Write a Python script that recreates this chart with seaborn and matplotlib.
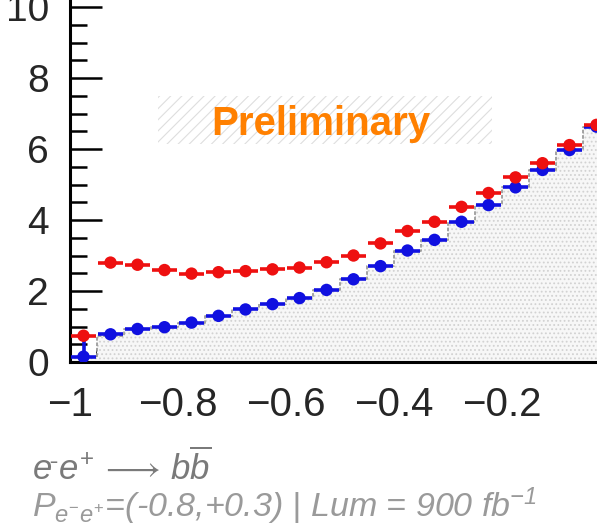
import numpy as np
import pandas as pd
import matplotlib
matplotlib.use("Agg")
import matplotlib.pyplot as plt
from matplotlib.patches import Rectangle
from matplotlib.ticker import FixedLocator, MultipleLocator, FixedFormatter
import seaborn as sns

# cos(theta) binning, 0.05 wide bins
bin_edges = [-1.00, -0.95, -0.90, -0.85, -0.80, -0.75, -0.70, -0.65, -0.60, -0.55,
             -0.50, -0.45, -0.40, -0.35, -0.30, -0.25, -0.20, -0.15, -0.10, -0.05, 0.00]

# reconstructed distribution (red) and corrected distribution (blue)
red_vals = [0.74, 2.80, 2.74, 2.59, 2.49, 2.53, 2.56, 2.61, 2.66, 2.81,
            3.00, 3.34, 3.69, 3.95, 4.37, 4.76, 5.20, 5.60, 6.11, 6.68]
red_err = [0.10, 0.05, 0.05, 0.05, 0.05, 0.05, 0.05, 0.05, 0.05, 0.05,
           0.05, 0.05, 0.05, 0.05, 0.05, 0.05, 0.05, 0.05, 0.05, 0.05]
blue_vals = [0.15, 0.78, 0.93, 0.98, 1.11, 1.30, 1.48, 1.63, 1.80, 2.03,
             2.33, 2.70, 3.14, 3.44, 3.95, 4.42, 4.92, 5.41, 5.97, 6.63]
blue_err = [0.55, 0.05, 0.05, 0.05, 0.05, 0.05, 0.05, 0.05, 0.05, 0.05,
            0.05, 0.05, 0.05, 0.05, 0.05, 0.05, 0.05, 0.05, 0.05, 0.05]
# parton-level expectation (grey filled histogram)
truth_vals = [0.15, 0.72, 0.93, 0.98, 1.11, 1.30, 1.48, 1.63, 1.80, 2.03,
              2.33, 2.70, 3.14, 3.44, 3.95, 4.42, 4.92, 5.41, 5.97, 6.63]

x_ticks = [-1.0, -0.8, -0.6, -0.4, -0.2, 0.0, 0.2, 0.4, 0.6, 0.8, 1.0]
x_tick_labels = ["\u22121", "\u22120.8", "\u22120.6", "\u22120.4", "\u22120.2",
                 "", "", "", "", "", ""]
y_ticks = [0, 2, 4, 6, 8, 10]
y_tick_labels = ["0", "2", "4", "6", "8", "10"]

process_label = r"$e^{\bar{}}\,e^{+}\,\longrightarrow\,b\overline{b}$"
run_label = r"$P_{e^{-}e^{+}}$=(-0.8,+0.3) | Lum = 900 fb$^{\mathregular{-1}}$"

edges = np.array(bin_edges)
centers = 0.5 * (edges[:-1] + edges[1:])
half_w = 0.5 * np.diff(edges)
truth_df = pd.DataFrame({"cos": centers, "w": truth_vals})

sns.set_style("ticks")
plt.rcParams["font.family"] = ["Liberation Sans", "DejaVu Sans"]
plt.rcParams["mathtext.fontset"] = "custom"
plt.rcParams["mathtext.rm"] = "Liberation Sans"
plt.rcParams["mathtext.it"] = "Liberation Sans:italic"
plt.rcParams["mathtext.sf"] = "Liberation Sans"
plt.rcParams["hatch.linewidth"] = 0.8

W, H = 597, 526
fig = plt.figure(figsize=(W / 100, H / 100), dpi=100)
fig.patch.set_facecolor("white")

# axes frame extends past the right and top edges of the canvas
ax_left, ax_bottom = 70, 164
px_per_x, px_per_y = 540.0, 35.5
x_lo, x_hi = -1.0, 1.0
y_lo, y_hi = 0.0, 11.0
ax = fig.add_axes([ax_left / W, ax_bottom / H,
                   (x_hi - x_lo) * px_per_x / W, (y_hi - y_lo) * px_per_y / H])
ax.set_facecolor("none")

# grey dotted expectation histogram
sns.histplot(data=truth_df, x="cos", weights="w", bins=list(bin_edges), element="step",
             fill=True, facecolor="#f7f7f7", edgecolor="#d2d2d2", hatch="....",
             linewidth=0, alpha=1.0, ax=ax, zorder=1)
sns.histplot(data=truth_df, x="cos", weights="w", bins=list(bin_edges), element="step",
             fill=False, color="#9c9c9c", linewidth=1.3, linestyle=(0, (2, 1)),
             ax=ax, zorder=2)

# blue then red points with horizontal bin bars
for vals, errs, col in [(blue_vals, blue_err, "#1010e0"), (red_vals, red_err, "#ee1010")]:
    ax.errorbar(centers, vals, xerr=half_w * 0.94, yerr=errs, fmt="none",
                ecolor=col, elinewidth=2.6, capsize=0, zorder=3)
    sns.scatterplot(x=centers, y=vals, color=col, s=80, edgecolor="none",
                    marker="o", ax=ax, zorder=4, legend=False)

ax.set_xlim(x_lo, x_hi)
ax.set_ylim(y_lo, y_hi)
ax.set_xlabel("")
ax.set_ylabel("")

ax.xaxis.set_major_locator(FixedLocator(x_ticks))
ax.xaxis.set_major_formatter(FixedFormatter(x_tick_labels))
ax.xaxis.set_minor_locator(MultipleLocator(0.05))
ax.yaxis.set_major_locator(FixedLocator(y_ticks))
ax.yaxis.set_major_formatter(FixedFormatter(y_tick_labels))
ax.yaxis.set_minor_locator(MultipleLocator(0.5))

ax.tick_params(axis="both", which="both", direction="in", width=1.8, color="black",
               top=False, right=False)
ax.tick_params(axis="x", which="major", length=19.5, pad=17, labelsize=29)
ax.tick_params(axis="x", which="minor", length=9.5)
ax.tick_params(axis="y", which="major", length=23, pad=15, labelsize=28)
ax.tick_params(axis="y", which="minor", length=12)
for side in ["left", "bottom"]:
    ax.spines[side].set_linewidth(2.2)
    ax.spines[side].set_color("black")
for side in ["top", "right"]:
    ax.spines[side].set_visible(False)

# "Preliminary" stamp on a hatched band
bx0, bx1, by0, by1 = 158, 492, 96, 144
fig.patches.append(Rectangle((bx0 / W, 1 - by1 / H), (bx1 - bx0) / W, (by1 - by0) / H,
                             transform=fig.transFigure, facecolor="none",
                             edgecolor="#dedede", hatch="///", linewidth=0, zorder=5))
fig.text(321 / W, 1 - 135 / H, "Preliminary", color="#ff8000", fontsize=29,
         fontweight="bold", ha="center", va="baseline", zorder=6)

# process and run conditions
fig.text(32 / W, 1 - 480 / H, process_label, color="#7a7a7a", fontsize=25,
         ha="left", va="baseline", fontstyle="italic")
fig.text(32 / W, 1 - 517 / H, run_label, color="#9a9a9a", fontsize=24.5,
         ha="left", va="baseline", fontstyle="italic")

fig.savefig("out.png", dpi=100)
